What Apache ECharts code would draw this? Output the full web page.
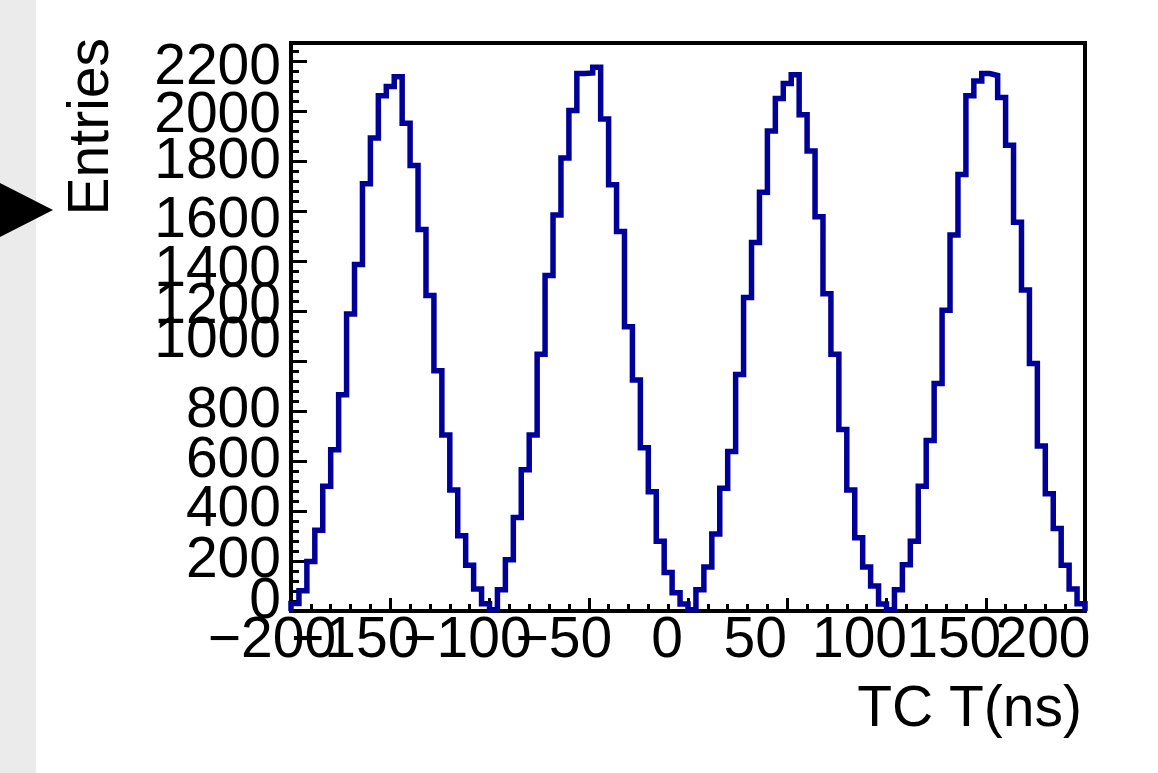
<!DOCTYPE html>
<html>
<head>
<meta charset="utf-8">
<script src="https://cdn.jsdelivr.net/npm/echarts@6/dist/echarts.min.js"></script>
<style>
html,body{margin:0;padding:0;background:#ffffff;}
#chart{width:1158px;height:773px;}
</style>
</head>
<body>
<div id="chart"></div>
<script>
// ---------------- data ----------------
const binLow = -200;      // ns, lower edge of first bin
const binWidth = 4;       // ns
const counts = [
  30, 81, 198, 323, 499, 645, 865, 1188, 1386, 1709,
  1892, 2061, 2098, 2137, 1951, 1782, 1526, 1262, 961, 704,
  484, 301, 183, 88, 29, 5, 85, 205, 374, 565,
  704, 1027, 1342, 1584, 1812, 2002, 2150, 2152, 2175, 1968,
  1705, 1518, 1137, 924, 653, 477, 279, 154, 73, 28,
  5, 85, 176, 308, 491, 638, 946, 1254, 1474, 1675,
  1920, 2050, 2110, 2145, 1985, 1840, 1577, 1269, 1027, 726,
  484, 293, 176, 100, 28, 5, 85, 185, 279, 499,
  682, 910, 1203, 1504, 1746, 2061, 2120, 2150, 2142, 2054,
  1863, 1555, 1284, 990, 660, 469, 330, 183, 88, 29
];
const xTickValues = [-200, -150, -100, -50, 0, 50, 100, 150, 200];
const xTickLabels = ['\u2212200', '\u2212150', '\u2212100', '\u221250', '0', '50', '100', '150', '200'];
const yTickValues = [0, 200, 400, 600, 800, 1000, 1200, 1400, 1600, 1800, 2000, 2200];
const yTickLabels = ['0', '200', '400', '600', '800', '1000', '1200', '1400', '1600', '1800', '2000', '2200'];
const xTitle = 'TC T(ns)';
const yTitle = 'Entries';

// ---------------- style ----------------
const FONT = 'Liberation Sans';
const FS = 57;
// label nudges imitating the reference rendering (px)
const xLabelShiftLeft = [19, 35, 22, 25, 21, 32, 27, 32, 42];
const yLabelShiftDown = [-9, 0, -1, 0, 0, -20, -4, 9, 10, 1, 5, 7];

// histogram outline built from bin edges and counts
const stepData = [[binLow, 0]];
counts.forEach((c, i) => stepData.push([binLow + i * binWidth, c]));
const xEnd = binLow + counts.length * binWidth;
stepData.push([xEnd, counts[counts.length - 1]]);
stepData.push([xEnd, 0]);

const xRich = {};
xLabelShiftLeft.forEach((s, i) => {
  xRich['x' + i] = {fontFamily: FONT, fontSize: FS, color: '#000', lineHeight: FS, padding: [0, 2 * s, 0, 0]};
});
const yRich = {};
yLabelShiftDown.forEach((d, i) => {
  yRich['y' + i] = {fontFamily: FONT, fontSize: FS, color: '#000', lineHeight: FS,
    padding: d >= 0 ? [2 * d, 0, 0, 0] : [0, 0, -2 * d, 0]};
});

// labels are split over two coincident axes (even / odd ticks) so that
// overlapping neighbours are all drawn, as in the reference
function xLabelFormatter(parity) {
  return function (v) {
    const i = xTickValues.indexOf(Math.round(v));
    if (i < 0 || i % 2 !== parity) return '';
    return '{x' + i + '|' + xTickLabels[i] + '}';
  };
}
function yLabelFormatter(parity) {
  return function (v) {
    const i = yTickValues.indexOf(Math.round(v));
    if (i < 0 || i % 2 !== parity) return '';
    return '{y' + i + '|' + yTickLabels[i] + '}';
  };
}

const xAxisBase = {
  type: 'value', min: -200, max: 200, interval: 50, position: 'bottom',
  splitLine: {show: false}
};
const yAxisBase = {
  type: 'value', min: 0, max: 2272, interval: 200, position: 'left',
  splitLine: {show: false}
};

const chart = echarts.init(document.getElementById('chart'), null, {renderer: 'canvas'});
chart.setOption({
  backgroundColor: '#ffffff',
  animation: false,
  grid: {
    left: 291, right: 73, top: 43, bottom: 162,
    containLabel: false, outerBoundsMode: 'none',
    show: true, borderColor: '#000', borderWidth: 4, backgroundColor: '#ffffff'
  },
  xAxis: [
    Object.assign({}, xAxisBase, {
      axisLine: {show: true, onZero: false, lineStyle: {color: '#000', width: 4}},
      axisTick: {show: true, inside: true, length: 13, lineStyle: {color: '#000', width: 3}},
      minorTick: {show: true, splitNumber: 5, length: 7, lineStyle: {color: '#000', width: 3}},
      axisLabel: {
        margin: 2, fontFamily: FONT, fontSize: FS, color: '#000',
        showMinLabel: true, showMaxLabel: true, hideOverlap: false,
        formatter: xLabelFormatter(0), rich: xRich
      }
    }),
    Object.assign({}, xAxisBase, {
      axisLine: {show: false, onZero: false},
      axisTick: {show: false},
      minorTick: {show: false},
      axisLabel: {
        margin: 2, fontFamily: FONT, fontSize: FS, color: '#000',
        showMinLabel: true, showMaxLabel: true, hideOverlap: false,
        formatter: xLabelFormatter(1), rich: xRich
      }
    })
  ],
  yAxis: [
    Object.assign({}, yAxisBase, {
      axisLine: {show: true, onZero: false, lineStyle: {color: '#000', width: 4}},
      axisTick: {show: true, inside: true, length: 16, lineStyle: {color: '#000', width: 3}},
      minorTick: {show: true, splitNumber: 5, length: 8, lineStyle: {color: '#000', width: 3}},
      axisLabel: {
        margin: 10, fontFamily: FONT, fontSize: FS, color: '#000',
        showMinLabel: true, showMaxLabel: false, hideOverlap: false,
        formatter: yLabelFormatter(0), rich: yRich
      }
    }),
    Object.assign({}, yAxisBase, {
      offset: 0,
      axisLine: {show: false, onZero: false},
      axisTick: {show: false},
      minorTick: {show: false},
      axisLabel: {
        margin: 10, fontFamily: FONT, fontSize: FS, color: '#000',
        showMinLabel: false, showMaxLabel: false, hideOverlap: false,
        formatter: yLabelFormatter(1), rich: yRich
      }
    })
  ],
  series: [{
    type: 'line',
    step: 'end',
    xAxisIndex: 0,
    yAxisIndex: 0,
    data: stepData,
    showSymbol: false,
    symbol: 'none',
    clip: true,
    lineStyle: {color: '#000099', width: 5.5, join: 'miter'}
  }],
  graphic: [
    {type: 'rect', shape: {x: 0, y: 0, width: 36, height: 773}, style: {fill: '#ebebeb'}, z: 10},
    {type: 'polygon', shape: {points: [[0, 183], [53, 210], [0, 237]]}, style: {fill: '#000'}, z: 11},
    {type: 'text', x: 92, y: 38, rotation: Math.PI / 2, z: 11,
      style: {text: yTitle, font: FS + 'px "' + FONT + '"', fill: '#000', align: 'right', verticalAlign: 'middle'}},
    {type: 'text', x: 1082, y: 710, z: 11,
      style: {text: xTitle, font: FS + 'px "' + FONT + '"', fill: '#000', align: 'right', verticalAlign: 'middle'}}
  ]
});
</script>
</body>
</html>
